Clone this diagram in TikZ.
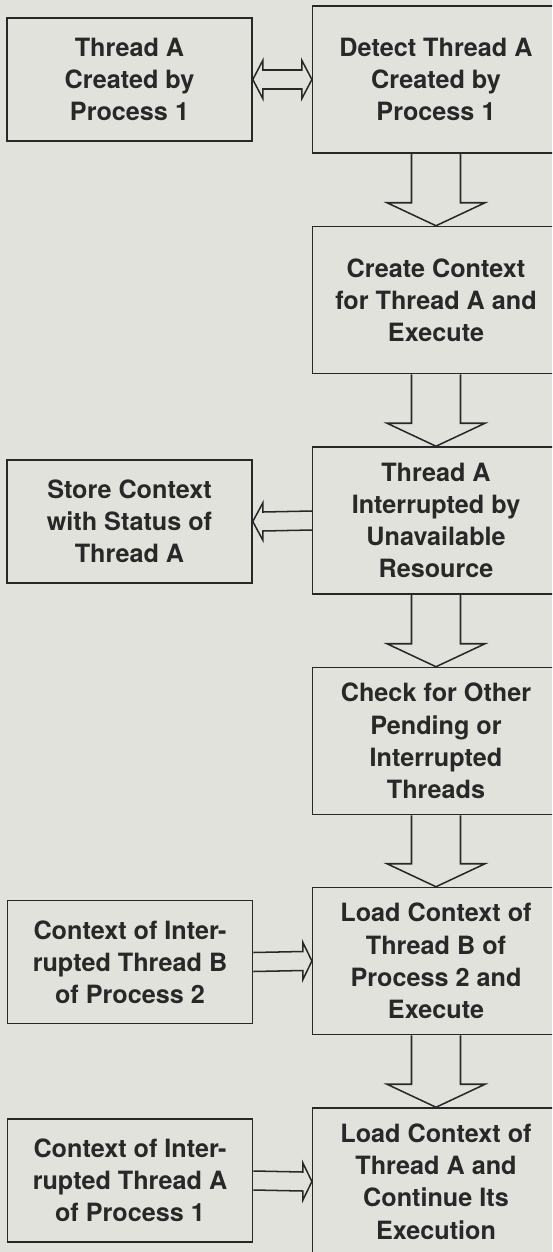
\documentclass[tikz,border=0pt]{standalone}
\usepackage{fontspec}
\setmainfont{TeX Gyre Heros}
\usepackage{tikz}
\usetikzlibrary{calc}

\definecolor{paper}{RGB}{226,226,221}
\definecolor{ink}{RGB}{40,40,40}

\tikzset{
  blockline/.style={draw=ink, line width=1.3pt, line join=miter},
  sidebox/.style={draw=ink, line width=1.3pt, text=ink, align=center,
    minimum width=7.35cm, minimum height=3.69cm,
    font=\fontsize{21.5}{27.5}\selectfont\bfseries},
  stepbox/.style={sidebox, minimum width=7.4cm, minimum height=4.41cm},
}

% hollow arrow going down from one step to the next
\newcommand{\downblock}[2]{%
  \draw[blockline] ($(#1.south)+(-0.735cm,0)$) -- ($(#2.north)+(-0.735cm,0.69cm)$)
    -- ($(#2.north)+(-1.47cm,0.69cm)$) -- (#2.north) -- ($(#2.north)+(1.47cm,0.69cm)$)
    -- ($(#2.north)+(0.735cm,0.69cm)$) -- ($(#1.south)+(0.735cm,0)$);}
% hollow arrow going sideways, #3 = back of the head seen from the tip
\newcommand{\sideblock}[3]{%
  \draw[blockline] ($(#1)+(0,0.285cm)$) -- ($(#2)+(#3,0.285cm)$)
    -- ($(#2)+(#3,0.555cm)$) -- (#2) -- ($(#2)+(#3,-0.555cm)$)
    -- ($(#2)+(#3,-0.285cm)$) -- ($(#1)+(0,-0.285cm)$);}

\begin{document}
\begin{tikzpicture}[x=0.03cm, y=-0.03cm]

\fill[paper] (0,0) rectangle (552,1252);
\useasboundingbox (0,0) rectangle (552,1252);
\clip (0,0) rectangle (552,1252);

% steps on the right
\node[stepbox] (detect) at (436,79.5) {Detect Thread A\\Created by\\Process 1};
\node[stepbox] (create) at (436,300) {Create Context\\for Thread A and\\Execute};
\node[stepbox] (interrupt) at (436,520.5) {Thread A\\Interrupted by\\Unavailable\\Resource};
\node[stepbox] (check) at (436,741) {Check for Other\\Pending or\\Interrupted\\Threads};
\node[stepbox] (loadB) at (436,961) {Load Context of\\Thread B of\\Process 2 and\\Execute};
\node[stepbox] (loadA) at (436,1181.5) {Load Context of\\Thread A and\\Continue Its\\Execution};

% boxes on the left
\node[sidebox] (created) at (129.5,79.5) {Thread A\\Created by\\Process 1};
\node[sidebox] (store) at (129.5,521.5) {Store Context\\with Status of\\Thread A};
\node[sidebox] (ctxB) at (130,962) {Context of Inter-\\rupted Thread B\\of Process 2};
\node[sidebox] (ctxA) at (130,1180.5) {Context of Inter-\\rupted Thread A\\of Process 1};

\downblock{detect}{create}
\downblock{create}{interrupt}
\downblock{interrupt}{check}
\downblock{check}{loadB}
\downblock{loadB}{loadA}

\sideblock{interrupt.west}{store.east}{0.3cm}
\sideblock{ctxB.east}{loadB.west}{-0.27cm}
\sideblock{ctxA.east}{loadA.west}{-0.27cm}

% two-headed arrow at the top
\draw[blockline] (created.east) -- ($(created.east)+(0.3cm,0.57cm)$)
  -- ($(created.east)+(0.3cm,0.285cm)$) -- ($(detect.west)+(-0.3cm,0.285cm)$)
  -- ($(detect.west)+(-0.3cm,0.57cm)$) -- (detect.west)
  -- ($(detect.west)+(-0.3cm,-0.57cm)$) -- ($(detect.west)+(-0.3cm,-0.285cm)$)
  -- ($(created.east)+(0.3cm,-0.285cm)$) -- ($(created.east)+(0.3cm,-0.57cm)$) -- cycle;
\end{tikzpicture}
\end{document}
